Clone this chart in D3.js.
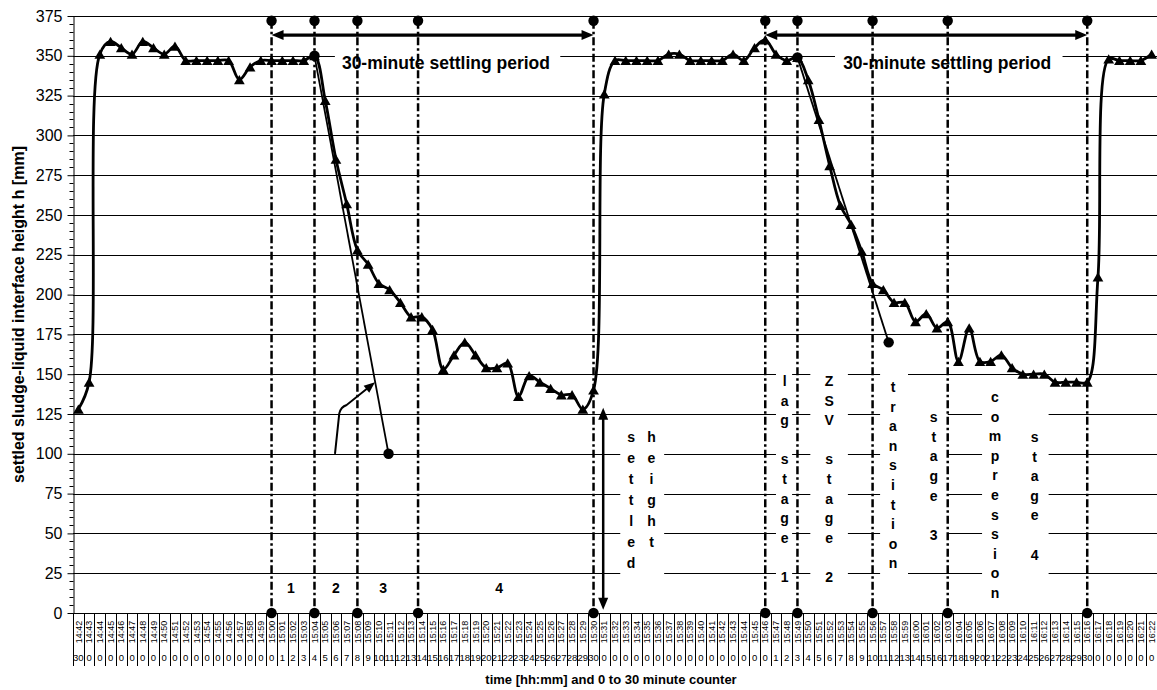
<!DOCTYPE html>
<html><head><meta charset="utf-8">
<script src="https://cdn.jsdelivr.net/npm/d3@7"></script>
<style>
body{margin:0;background:#fff}
svg{display:block}
text{font-family:"Liberation Sans",Arial,Helvetica,sans-serif;fill:#000}
</style>
</head><body>
<svg id="chart" width="1157" height="690"></svg>
<script>
// ---------- DATA ----------
const times = [
"14:42","14:43","14:44","14:45","14:46","14:47","14:48","14:49","14:50","14:51","14:52","14:53","14:54","14:55","14:56","14:57","14:58","14:59",
"15:00","15:01","15:02","15:03","15:04","15:05","15:06","15:07","15:08","15:09","15:10","15:11","15:12","15:13","15:14","15:15","15:16","15:17","15:18","15:19",
"15:20","15:21","15:22","15:23","15:24","15:25","15:26","15:27","15:28","15:29","15:30","15:31","15:32","15:33","15:34","15:35","15:36","15:37","15:38","15:39",
"15:40","15:41","15:42","15:43","15:44","15:45","15:46","15:47","15:48","15:49","15:50","15:51","15:52","15:53","15:54","15:55","15:56","15:57","15:58","15:59",
"16:00","16:01","16:02","16:03","16:04","16:05","16:06","16:07","16:08","16:09","16:10","16:11","16:12","16:13","16:14","16:15","16:16","16:17","16:18","16:19",
"16:20","16:21","16:22"];

const counters = [
"30","0","0","0","0","0","0","0","0","0","0","0","0","0","0","0","0","0",
"0","1","2","3","4","5","6","7","8","9","10","11","12","13","14","15","16","17","18","19",
"20","21","22","23","24","25","26","27","28","29","30","0","0","0","0","0","0","0","0","0",
"0","0","0","0","0","0","0","1","2","3","4","5","6","7","8","9","10","11","12","13",
"14","15","16","17","18","19","20","21","22","23","24","25","26","27","28","29","30","0","0","0",
"0","0","0"];

const heights = [
128,145,351,359,355,351,359,355,351,356,347,347,347,347,347,335,343,347,
347,347,347,347,350,322,285,257,228,219,207,203,195,186,186,178,153,162,170,162,
154,154,157,136,149,145,141,137,137,128,140,326,347,347,347,347,347,351,351,347,
347,347,347,351,347,355,360,351,347,349,335,310,281,256,244,227,207,203,195,195,
183,188,179,183,158,179,158,158,162,154,150,150,150,145,145,145,145,211,348,347,
347,347,351];

const yTickValues = [0,25,50,75,100,125,150,175,200,225,250,275,300,325,350,375];

// stage boundaries (category position) with marker heights
const boundaryPos = [18, 22, 26, 31.65, 48, 64, 67, 74, 81, 94];
const boundaryTop = 372;
const boundaryBottom = 0;

// zone-settling-velocity tangents [x position, height]
const zsv1X = [22, 28.9];
const zsv1Y = [350, 100];
const zsv2X = [67, 75.5];
const zsv2Y = [349, 170];

// 30-minute settling periods (start, end position)
const periodStart = [18, 64];
const periodEnd = [48, 94];
const periodLevel = 363;

// ---------- SCALES ----------
const plotLeft = 73, plotRight = 1157, plotTop = 16, plotBottom = 613;
const x = d3.scaleLinear().domain([-0.5, 100.5]).range([plotLeft, plotRight]);
const y = d3.scaleLinear().domain([0, 375]).range([plotBottom, plotTop]);

const svg = d3.select("#chart");

// ---------- GRIDLINES ----------
svg.append("g").selectAll("line").data(yTickValues.filter(v => v > 0)).join("line")
  .attr("x1", plotLeft).attr("x2", plotRight)
  .attr("y1", d => Math.round(y(d)) + 0.5).attr("y2", d => Math.round(y(d)) + 0.5)
  .attr("stroke", "#000").attr("stroke-width", 1);

// ---------- WHITE TEXT BOXES (interrupt gridlines) ----------
const boxes = [
  {x0: 50.49, x1: 54.58, v0: 121.2, v1: 19.5},
  {x0: 65.0, x1: 66.5, v0: 152.6, v1: 17},
  {x0: 68.2, x1: 71.7, v0: 153.9, v1: 17},
  {x0: 74.7, x1: 77.3, v0: 151.4, v1: 23.9},
  {x0: 77.3, x1: 81.0, v0: 130.6, v1: 42.7},
  {x0: 84.2, x1: 90.4, v0: 142.6, v1: 5.7},
  {x0: 23.9, x1: 44.9, v0: 356, v1: 336},
  {x0: 70.5, x1: 91.7, v0: 356, v1: 336}
];
svg.append("g").selectAll("rect").data(boxes).join("rect")
  .attr("x", d => x(d.x0)).attr("width", d => x(d.x1) - x(d.x0))
  .attr("y", d => y(d.v0)).attr("height", d => y(d.v1) - y(d.v0))
  .attr("fill", "#fff");

// ---------- Y AXIS ----------
const yAxis = d3.axisLeft(y).tickValues(yTickValues).tickSize(6).tickPadding(5).tickSizeOuter(0);
const gy = svg.append("g").attr("transform", `translate(${plotLeft + 0.5},0)`).call(yAxis);
gy.selectAll("text").style("font-size", "16px").style("font-family", "'Liberation Sans',Arial,sans-serif").attr("fill", "#000");
gy.selectAll("line,path").attr("stroke", "#000");
svg.append("g").selectAll("line").data(d3.range(0, 376, 5).filter(v => v % 25 !== 0)).join("line")
  .attr("x1", plotLeft + 0.5).attr("x2", plotLeft - 3.5)
  .attr("y1", d => Math.round(y(d)) + 0.5).attr("y2", d => Math.round(y(d)) + 0.5)
  .attr("stroke", "#000");

// ---------- X AXIS ----------
svg.append("line").attr("x1", plotLeft).attr("x2", plotRight)
  .attr("y1", plotBottom + 0.5).attr("y2", plotBottom + 0.5).attr("stroke", "#000");
svg.append("g").selectAll("line").data(d3.range(0, times.length + 1)).join("line")
  .attr("x1", d => Math.round(x(d - 0.5)) + 0.5).attr("x2", d => Math.round(x(d - 0.5)) + 0.5)
  .attr("y1", plotBottom).attr("y2", 666).attr("stroke", "#000");
svg.append("g").selectAll("text").data(times).join("text")
  .attr("transform", (d, i) => `translate(${x(i)},632) rotate(-90)`)
  .attr("text-anchor", "middle").attr("dy", "0.35em")
  .style("font-size", "9px").text(d => d);
svg.append("g").selectAll("text").data(counters).join("text")
  .attr("x", (d, i) => x(i)).attr("y", 661)
  .attr("text-anchor", "middle").style("font-size", "9.5px").text(d => d);

// ---------- AXIS TITLES ----------
svg.append("text").attr("transform", `translate(18,${(plotTop + plotBottom) / 2}) rotate(-90)`)
  .attr("text-anchor", "middle").attr("dy", "0.35em")
  .style("font-size", "16px").style("font-weight", "bold")
  .text("settled sludge-liquid interface height h [mm]");
svg.append("text").attr("x", 611).attr("y", 684).attr("text-anchor", "middle")
  .style("font-size", "13px").style("font-weight", "bold")
  .text("time [hh:mm] and 0 to 30 minute counter");

// ---------- STAGE BOUNDARY LINES ----------
const gb = svg.append("g");
gb.selectAll("line").data(boundaryPos).join("line")
  .attr("x1", d => x(d)).attr("x2", d => x(d))
  .attr("y1", y(boundaryTop)).attr("y2", y(boundaryBottom))
  .attr("stroke", "#000").attr("stroke-width", 2.5)
  .attr("stroke-dasharray", "8,3,2.5,3");
gb.selectAll("circle.t").data(boundaryPos).join("circle").attr("class", "t")
  .attr("cx", d => x(d)).attr("cy", y(boundaryTop)).attr("r", 5.2);
gb.selectAll("circle.b").data(boundaryPos).join("circle").attr("class", "b")
  .attr("cx", d => x(d)).attr("cy", y(boundaryBottom)).attr("r", 5.2);

// ---------- ARROW HELPERS ----------
function arrowHead(g, tx, ty, ang, len = 12, hw = 5) {
  const p = [[tx, ty],
    [tx - len * Math.cos(ang) + hw * Math.sin(ang), ty - len * Math.sin(ang) - hw * Math.cos(ang)],
    [tx - len * Math.cos(ang) - hw * Math.sin(ang), ty - len * Math.sin(ang) + hw * Math.cos(ang)]];
  g.append("path").attr("d", "M" + p.join("L") + "Z").attr("fill", "#000");
}

// 30-minute settling period arrows
const ga = svg.append("g");
periodStart.forEach((s, k) => {
  const x0 = x(s), x1 = x(periodEnd[k]), yy = y(periodLevel);
  ga.append("line").attr("x1", x0 + 8).attr("x2", x1 - 8).attr("y1", yy).attr("y2", yy)
    .attr("stroke", "#000").attr("stroke-width", 3.2);
  arrowHead(ga, x0, yy, Math.PI, 12, 5);
  arrowHead(ga, x1, yy, 0, 12, 5);
});
[34.25, 80.95].forEach(c => {
  ga.append("text").attr("x", x(c)).attr("y", y(341.5)).attr("text-anchor", "middle")
    .style("font-size", "17.5px").style("font-weight", "bold").text("30-minute settling period");
});

// settled height arrow
{
  const xa = x(48.9), y0 = y(129), y1 = y(2);
  ga.append("line").attr("x1", xa).attr("x2", xa).attr("y1", y0 + 8).attr("y2", y1 - 8)
    .attr("stroke", "#000").attr("stroke-width", 2.5);
  arrowHead(ga, xa, y0, -Math.PI / 2, 12, 5);
  arrowHead(ga, xa, y1, Math.PI / 2, 12, 5);
}

// curved pointer arrow (cycle 1)
{
  const p0 = [x(23.91), y(100)], p1 = [x(24.31), y(125.4)], c = [x(24.45), y(129.5)],
        p2 = [x(25.0), y(130.7)], tip = [x(27.64), y(144.9)];
  const ang = Math.atan2(tip[1] - p2[1], tip[0] - p2[0]);
  const end = [tip[0] - 8 * Math.cos(ang), tip[1] - 8 * Math.sin(ang)];
  ga.append("path")
    .attr("d", `M${p0}L${p1}Q${c} ${p2}L${end}`)
    .attr("fill", "none").attr("stroke", "#000").attr("stroke-width", 2);
  arrowHead(ga, tip[0], tip[1], ang, 11, 4.5);
}

// ---------- TANGENT LINES ----------
const gt = svg.append("g");
[[zsv1X, zsv1Y], [zsv2X, zsv2Y]].forEach(([xs, ys]) => {
  gt.append("line").attr("x1", x(xs[0])).attr("y1", y(ys[0]))
    .attr("x2", x(xs[1])).attr("y2", y(ys[1]))
    .attr("stroke", "#000").attr("stroke-width", 1.8);
  gt.append("circle").attr("cx", x(xs[0])).attr("cy", y(ys[0])).attr("r", 5.2);
  gt.append("circle").attr("cx", x(xs[1])).attr("cy", y(ys[1])).attr("r", 5.2);
});

// ---------- MAIN SERIES ----------
const line = d3.line().x((d, i) => x(i)).y(d => y(d)).curve(d3.curveCatmullRom.alpha(0.5));
svg.append("path").datum(heights).attr("d", line)
  .attr("fill", "none").attr("stroke", "#000").attr("stroke-width", 2.8)
  .attr("stroke-linejoin", "round");
const tri = d3.symbol(d3.symbolTriangle, 50);
svg.append("g").selectAll("path").data(heights).join("path")
  .attr("d", tri).attr("transform", (d, i) => `translate(${x(i)},${y(d) + 1.4})`)
  .attr("fill", "#000");

// ---------- STAGE LABELS ----------
const stageLabels = [
  {text: "settled", xi: 51.5, v: 110.5, step: 21},
  {text: "height", xi: 53.4, v: 110.5, step: 21},
  {text: "lag stage 1", xi: 65.8, v: 145.7, step: 19.6},
  {text: "ZSV stage 2", xi: 69.95, v: 145.7, step: 19.6},
  {text: "transition", xi: 75.9, v: 142, step: 19.6},
  {text: "stage 3", xi: 79.7, v: 123, step: 19.6},
  {text: "compression", xi: 85.4, v: 135.7, step: 19.6},
  {text: "stage 4", xi: 89.1, v: 110.5, step: 19.6}
];
const gl = svg.append("g");
stageLabels.forEach(l => {
  const t = gl.append("text").attr("text-anchor", "middle")
    .style("font-size", "14px").style("font-weight", "bold");
  l.text.split("").forEach((ch, k) => {
    t.append("tspan").attr("x", x(l.xi)).attr("y", y(l.v) + 5 + k * l.step)
      .text(ch === " " ? "\u00a0" : ch);
  });
});
// stage numbers of cycle 1
[["1", 19.8], ["2", 24.0], ["3", 28.4], ["4", 39.2]].forEach(([s, p]) => {
  gl.append("text").attr("x", x(p)).attr("y", y(12.6)).attr("text-anchor", "middle")
    .style("font-size", "14px").style("font-weight", "bold").text(s);
});
</script>
</body></html>
